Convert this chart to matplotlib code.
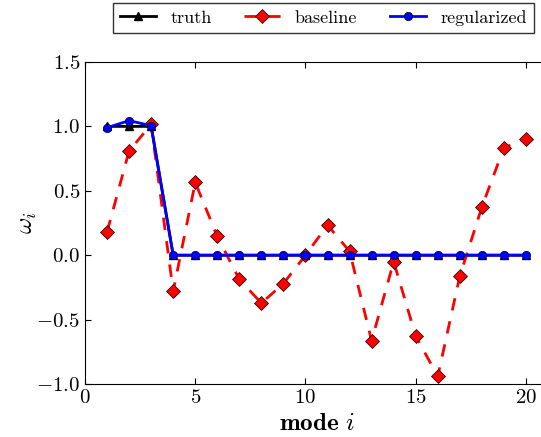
import matplotlib
matplotlib.use('Agg')
import matplotlib.pyplot as plt

plt.rcParams['mathtext.fontset'] = 'cm'
plt.rcParams['font.family'] = 'serif'
plt.rcParams['font.serif'] = ['cmr10']
plt.rcParams['axes.formatter.use_mathtext'] = True
plt.rcParams['xtick.direction'] = 'in'
plt.rcParams['ytick.direction'] = 'in'
plt.rcParams['xtick.top'] = True
plt.rcParams['ytick.right'] = True

modes = list(range(1, 21))
truth = [1.0, 1.0, 1.0] + [0.0] * 17
baseline = [0.18, 0.81, 1.015, -0.28, 0.565, 0.146, -0.188, -0.372, -0.22, 0.0,
            0.234, 0.03, -0.664, -0.05, -0.628, -0.94, -0.162, 0.374, 0.834, 0.905]
regularized = [0.99, 1.045, 1.005] + [0.0] * 17

fig = plt.figure(figsize=(5.41, 4.37), dpi=100)
ax = fig.add_axes([85 / 541, 1 - 384 / 437, (548 - 85) / 541, (384 - 62) / 437])

ax.plot(modes, truth, color='k', marker='^', markersize=6, linewidth=2, label='truth')
ax.plot(modes, baseline, color='r', linestyle='--', marker='D', markersize=7,
        markeredgecolor='k', markeredgewidth=0.5, linewidth=2, dashes=(4.5, 4), label='baseline')
ax.plot(modes, regularized, color='b', marker='o', markersize=6,
        markeredgecolor='k', markeredgewidth=0.5, linewidth=2, label='regularized')

ax.set_xlim(0, 21)
ax.set_ylim(-1.0, 1.5)
ax.set_xticks([0, 5, 10, 15, 20])
ax.set_yticks([-1.0, -0.5, 0.0, 0.5, 1.0, 1.5])
ax.tick_params(labelsize=15, length=4)
ax.set_xlabel(r'$\mathbf{mode}\ i$', fontsize=18)
ax.set_ylabel(r'$\omega_i$', fontsize=18, labelpad=-2)

leg = ax.legend(loc='lower left', bbox_to_anchor=(0.06, 1.09),
                ncol=3, fontsize=13, frameon=True, fancybox=False, handlelength=2,
                borderaxespad=0, columnspacing=1.8)
leg.get_frame().set_edgecolor('k')

fig.savefig('out.png', dpi=100)
